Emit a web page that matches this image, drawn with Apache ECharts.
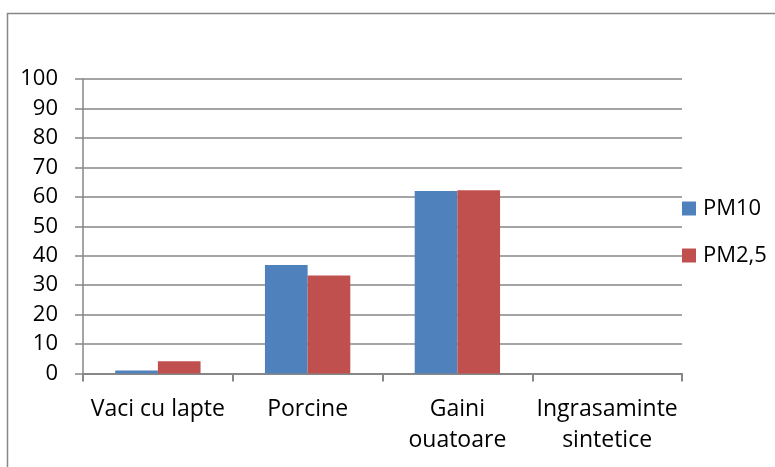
<!DOCTYPE html>
<html>
<head>
<meta charset="utf-8">
<script src="https://cdn.jsdelivr.net/npm/echarts@6/dist/echarts.min.js"></script>
<style>
  html, body { margin: 0; padding: 0; background: #fff; }
  #chart { width: 775px; height: 467px; }
</style>
</head>
<body>
<div id="chart"></div>
<script>
// Emission shares by source category
const categories = ['Vaci cu lapte', 'Porcine', 'Gaini\nouatoare', 'Ingrasaminte\nsintetice'];
const pm10 = [1.0, 36.8, 62.0, 0];
const pm25 = [4.2, 33.3, 62.2, 0];
const yTicks = { min: 0, max: 100, interval: 10 };

const FONT = 'Open Sans';
const FS = 23;
const GRAY = '#878787';

const chart = echarts.init(document.getElementById('chart'), null, { renderer: 'canvas' });
chart.setOption({
  animation: false,
  backgroundColor: '#ffffff',
  textStyle: { fontFamily: FONT, color: '#000' },
  graphic: [{
    type: 'rect',
    left: 5, top: 11,
    shape: { width: 820, height: 520 },
    style: { fill: 'none', stroke: GRAY, lineWidth: 1.5 },
    silent: true
  }],
  grid: { left: 83, right: 93, top: 79, bottom: 93.5, containLabel: false },
  legend: {
    orient: 'vertical',
    left: 682, top: 197,
    padding: 0,
    itemWidth: 14, itemHeight: 14,
    itemGap: 24,
    icon: 'rect',
    textStyle: { fontFamily: FONT, fontSize: 22, color: '#000', lineHeight: 23, padding: [0, 0, 0, 2] },
    data: ['PM10', 'PM2,5']
  },
  xAxis: {
    type: 'category',
    data: categories,
    axisLine: { show: true, lineStyle: { color: GRAY, width: 2 } },
    axisTick: { show: true, interval: 0, length: 8, lineStyle: { color: GRAY, width: 2 } },
    axisLabel: { interval: 0, margin: 20, fontFamily: FONT, fontSize: FS, color: '#000', lineHeight: 31 }
  },
  yAxis: {
    type: 'value',
    min: yTicks.min, max: yTicks.max, interval: yTicks.interval,
    axisLine: { show: true, lineStyle: { color: GRAY, width: 1.5 } },
    axisTick: { show: true, length: 8, lineStyle: { color: GRAY, width: 1.5 } },
    axisLabel: { margin: 25, fontFamily: FONT, fontSize: FS - 1, color: '#000' },
    splitLine: { show: true, lineStyle: { color: GRAY, width: 1.5 } }
  },
  series: [
    { name: 'PM10', type: 'bar', data: pm10, barGap: '0%', barCategoryGap: '43%',
      itemStyle: { color: '#4F81BD' } },
    { name: 'PM2,5', type: 'bar', data: pm25, barGap: '0%', barCategoryGap: '43%',
      itemStyle: { color: '#C0504D' } }
  ]
});
</script>
</body>
</html>
